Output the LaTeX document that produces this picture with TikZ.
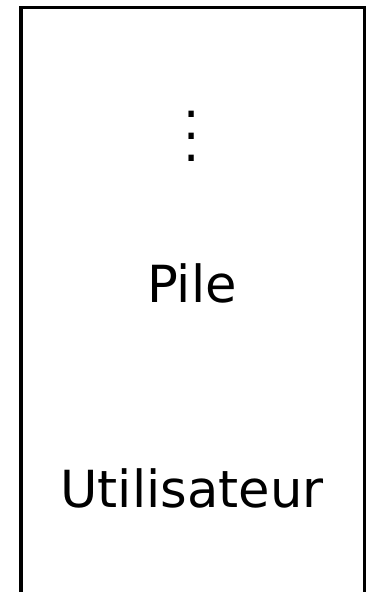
\documentclass[tikz,border=0pt]{standalone}
\usepackage{fontspec}
\setmainfont{DejaVu Sans}
\usepackage{tikz}
\usetikzlibrary{positioning}

\begin{document}
\begin{tikzpicture}[
    lbl/.style={font=\fontsize{9.3pt}{11pt}\selectfont, anchor=base, inner sep=0pt},
    wall/.style={draw, semithick}
  ]
  \useasboundingbox (0,0) rectangle (2.403,-3.783);

  % --- stack frame, open at the bottom ---
  \draw[wall] (0.134,-3.783) -- (0.134,-0.048) -- (2.329,-0.048) -- (2.329,-3.783);

  % --- contents ---
  \node[lbl] (dots) at (1.227,-1.035) {\vdots};
  \node[lbl] (pile) at (1.227,-1.930) {Pile};
  \node[lbl] (user) at (1.227,-3.240) {Utilisateur};
\end{tikzpicture}
\end{document}
